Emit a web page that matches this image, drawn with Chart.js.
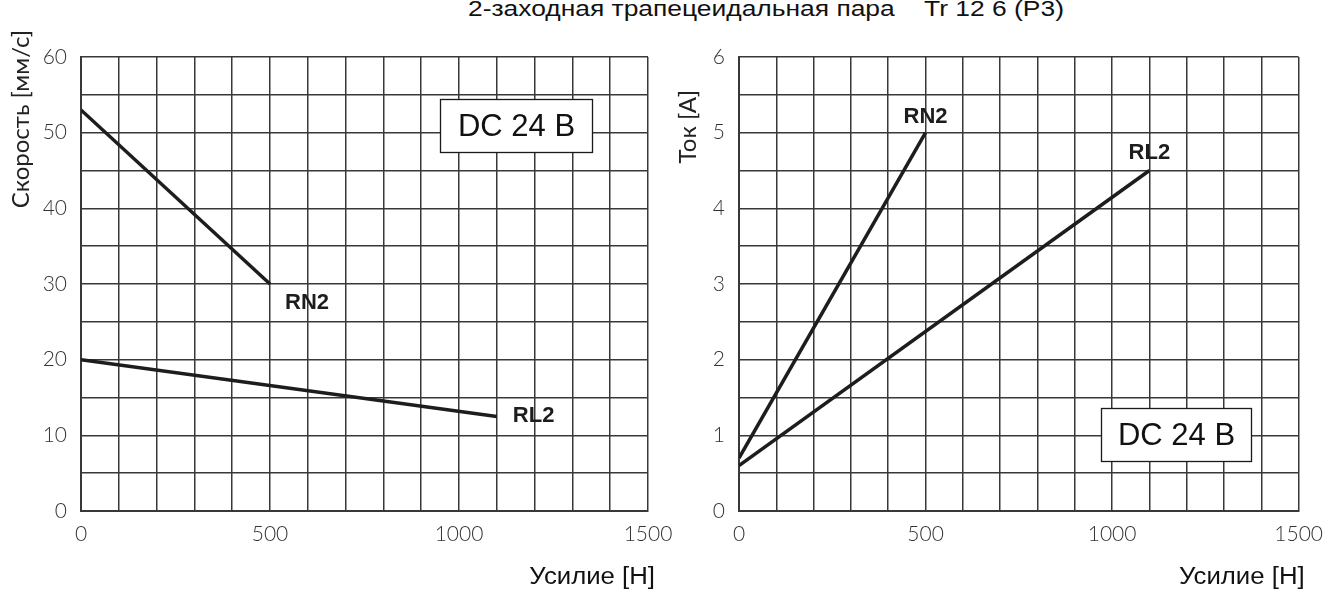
<!DOCTYPE html>
<html>
<head>
<meta charset="utf-8">
<script src="https://cdn.jsdelivr.net/npm/chart.js@4.4.1/dist/chart.umd.min.js"></script>
<style>
  html, body { margin: 0; padding: 0; background: #fff; }
  body { width: 1334px; height: 592px; position: relative; overflow: hidden; }
  #title {
    position: absolute; left: 468px; top: -2px;
    font: 22px "Liberation Sans", Arial, sans-serif; line-height: 22px;
    color: #111; white-space: pre;
    transform: scaleX(1.2); transform-origin: 0 0;
  }
  .panel { position: absolute; top: 0; height: 592px; }
  #speedWrap { left: 0; width: 720px; }
  #currentWrap { left: 640px; width: 694px; }
</style>
</head>
<body>
<div id="title">2-заходная трапецеидальная пара    Tr 12 6 (P3)</div>
<div class="panel" id="speedWrap"><canvas id="speedChart" width="720" height="592"></canvas></div>
<div class="panel" id="currentWrap"><canvas id="currentChart" width="694" height="592"></canvas></div>
<script>
// Tick labels shown on the axes (grid lines run at finer steps)
const forceTickLabels = [0, 500, 1000, 1500];
const speedTickLabels = [0, 10, 20, 30, 40, 50, 60];
const currentTickLabels = [0, 1, 2, 3, 4, 5, 6];

// Drive variants
const seriesNames = ['RN2', 'RL2'];

// Load (N) at the ends of each characteristic
const rn2Force = [0, 500];
const rl2Force = [0, 1100];

// Speed (mm/s) vs load
const rn2Speed = [53, 30];
const rl2Speed = [20, 12.5];

// Current (A) vs load
const rn2Current = [0.7, 5];
const rl2Current = [0.6, 4.5];

const supplyLabel = 'DC 24 B';
const forceTitle = 'Усилие [Н]';
const speedTitle = 'Скорость [мм/с]';
const currentTitle = 'Ток [A]';

const INK = '#1e1c1c';
const GRID = '#383838';
const ARIAL = '"Liberation Sans", Arial, sans-serif';

function points(xs, ys) {
  return xs.map((x, i) => ({ x: x, y: ys[i] }));
}

// Draws the supply note box, the series tags and the axis titles
const panelText = {
  id: 'panelText',
  afterDatasetsDraw(chart, args, opts) {
    const ctx = chart.ctx;
    const area = chart.chartArea;
    const sx = chart.scales.x, sy = chart.scales.y;
    ctx.save();

    // note box
    const b = opts.box;
    const l = Math.round(sx.getPixelForValue(b.x0)) + 0.5;
    const r = Math.round(sx.getPixelForValue(b.x1)) + 0.5;
    const t = Math.round(sy.getPixelForValue(b.y1)) + 0.5;
    const bt = Math.round(sy.getPixelForValue(b.y0)) + 0.5;
    ctx.fillStyle = '#fff';
    ctx.fillRect(l, t, r - l, bt - t);
    ctx.strokeStyle = '#1a1a1a';
    ctx.lineWidth = 1.3;
    ctx.strokeRect(l, t, r - l, bt - t);
    ctx.fillStyle = '#111';
    ctx.font = '31px ' + ARIAL;
    ctx.textAlign = 'center';
    ctx.textBaseline = 'middle';
    ctx.fillText(b.text, (l + r) / 2, (t + bt) / 2 + 1);

    // series tags next to the end of each line
    ctx.font = 'bold 22px ' + ARIAL;
    ctx.textBaseline = 'middle';
    chart.data.datasets.forEach((ds, i) => {
      const meta = chart.getDatasetMeta(i);
      const last = meta.data[meta.data.length - 1];
      const o = opts.tags[i];
      ctx.textAlign = o.align;
      ctx.fillStyle = INK;
      ctx.fillText(ds.label, last.x + o.dx, last.y + o.dy);
    });

    // y axis title, rotated, anchored at its upper end
    const yt = opts.yTitle;
    ctx.save();
    ctx.translate(area.left + yt.dx, area.top + yt.dy);
    ctx.rotate(-Math.PI / 2);
    ctx.font = '24px Lato, "Noto Sans", sans-serif';
    ctx.fillStyle = '#222';
    ctx.textAlign = 'right';
    ctx.textBaseline = 'middle';
    ctx.fillText(yt.text, 0, 0);
    ctx.restore();

    // x axis title, right aligned under the axis end, set slightly wide
    const xt = opts.xTitle;
    ctx.save();
    ctx.translate(area.right + xt.dx, area.bottom + xt.dy);
    ctx.scale(1.12, 1);
    ctx.font = '23px ' + ARIAL;
    ctx.fillStyle = '#111';
    ctx.textAlign = 'right';
    ctx.textBaseline = 'alphabetic';
    ctx.fillText(xt.text, 0, 0);
    ctx.restore();

    ctx.restore();
  }
};

function lineDataset(label, xs, ys) {
  return {
    label: label,
    data: points(xs, ys),
    borderColor: INK,
    borderWidth: 3.5,
    pointRadius: 0,
    pointHoverRadius: 0,
    tension: 0,
    fill: false,
    borderCapStyle: 'butt'
  };
}

function makeChart(canvasId, cfg) {
  const tickFont = { family: 'Lato, "Noto Sans", sans-serif', size: 21, weight: '300' };
  return new Chart(document.getElementById(canvasId), {
    type: 'line',
    data: { datasets: cfg.datasets },
    options: {
      responsive: false,
      animation: false,
      events: [],
      layout: { padding: cfg.padding },
      plugins: {
        legend: { display: false },
        tooltip: { enabled: false },
        title: { display: false },
        panelText: cfg.text
      },
      scales: {
        x: {
          type: 'linear',
          min: 0, max: 1500,
          afterFit(scale) { scale.height = cfg.xAxisHeight; },
          ticks: {
            stepSize: 100,
            autoSkip: false,
            maxRotation: 0,
            padding: 11,
            color: '#333',
            font: tickFont,
            callback: (v) => forceTickLabels.includes(v) ? String(v) : ''
          },
          grid: { color: GRID, lineWidth: 1.5, drawTicks: false },
          border: { display: true, color: GRID, width: 2 }
        },
        y: {
          type: 'linear',
          min: cfg.yMin, max: cfg.yMax,
          afterFit(scale) { scale.width = cfg.yAxisWidth; },
          ticks: {
            stepSize: cfg.yStep,
            autoSkip: false,
            padding: 14,
            color: '#333',
            font: tickFont,
            callback: (v) => cfg.yLabels.includes(v) ? String(v) : ''
          },
          grid: { color: GRID, lineWidth: 1.5, drawTicks: false },
          border: { display: true, color: GRID, width: 2 }
        }
      }
    },
    plugins: [panelText]
  });
}

// Speed vs load
makeChart('speedChart', {
  datasets: [
    lineDataset(seriesNames[0], rn2Force, rn2Speed),
    lineDataset(seriesNames[1], rl2Force, rl2Speed)
  ],
  yMin: 0, yMax: 60, yStep: 5, yLabels: speedTickLabels,
  yAxisWidth: 81, xAxisHeight: 81,
  padding: { top: 57, left: 0, right: 72, bottom: 0 },
  text: {
    box: { text: supplyLabel, x0: 950, x1: 1352, y0: 47.4, y1: 54.4 },
    tags: [
      { dx: 15, dy: 19, align: 'left' },
      { dx: 16, dy: 0, align: 'left' }
    ],
    yTitle: { text: speedTitle, dx: -60, dy: -27 },
    xTitle: { text: forceTitle, dx: 7, dy: 73 }
  }
});

// Current vs load
makeChart('currentChart', {
  datasets: [
    lineDataset(seriesNames[0], rn2Force, rn2Current),
    lineDataset(seriesNames[1], rl2Force, rl2Current)
  ],
  yMin: 0, yMax: 6, yStep: 0.5, yLabels: currentTickLabels,
  yAxisWidth: 99, xAxisHeight: 81,
  padding: { top: 57, left: 0, right: 29, bottom: 0 },
  text: {
    box: { text: supplyLabel, x0: 970, x1: 1373, y0: 0.66, y1: 1.36 },
    tags: [
      { dx: 0, dy: -16, align: 'center' },
      { dx: 0, dy: -18, align: 'center' }
    ],
    yTitle: { text: currentTitle, dx: -51, dy: 33 },
    xTitle: { text: forceTitle, dx: 6, dy: 73 }
  }
});
</script>
</body>
</html>
